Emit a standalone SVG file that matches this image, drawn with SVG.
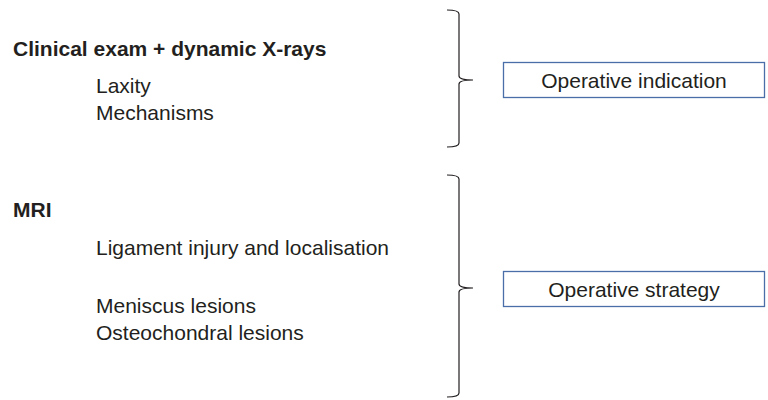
<svg xmlns="http://www.w3.org/2000/svg" width="768" height="400" viewBox="0 0 768 400">
<style>
text{font-family:"Liberation Sans",Arial,sans-serif;fill:#231f20;font-size:21px}
.b{font-weight:bold}
.box{fill:#fff;stroke:#4a6fa8;stroke-width:1.3}
.brace{fill:none;stroke:#231f20;stroke-width:1.2}
</style>
<rect width="768" height="400" fill="#fff"/>
<g id="clinical">
<text class="b" x="13" y="56">Clinical exam + dynamic X-rays</text>
<text x="96" y="93">Laxity</text>
<text x="96" y="120">Mechanisms</text>
</g>
<g id="mri">
<text class="b" x="13" y="217">MRI</text>
<text x="96" y="255">Ligament injury and localisation</text>
<text x="96" y="313">Meniscus lesions</text>
<text x="96" y="340">Osteochondral lesions</text>
</g>
<g id="operative-indication">
<rect class="box" x="503.5" y="62.5" width="261" height="35"/>
<text x="634" y="88" text-anchor="middle">Operative indication</text>
</g>
<g id="operative-strategy">
<rect class="box" x="503.5" y="271.5" width="261" height="35"/>
<text x="634" y="297" text-anchor="middle">Operative strategy</text>
</g>
<g id="connectors">
<path class="brace" d="M447 10 Q459 10 459 14 L459 76 Q459 80 473 80 Q459 80 459 84 L459 143 Q459 147 447 147"/>
<path class="brace" d="M447 175 Q459 175 459 179 L459 284 Q459 288 473 288 Q459 288 459 292 L459 393 Q459 397 447 397"/>
</g>
</svg>
